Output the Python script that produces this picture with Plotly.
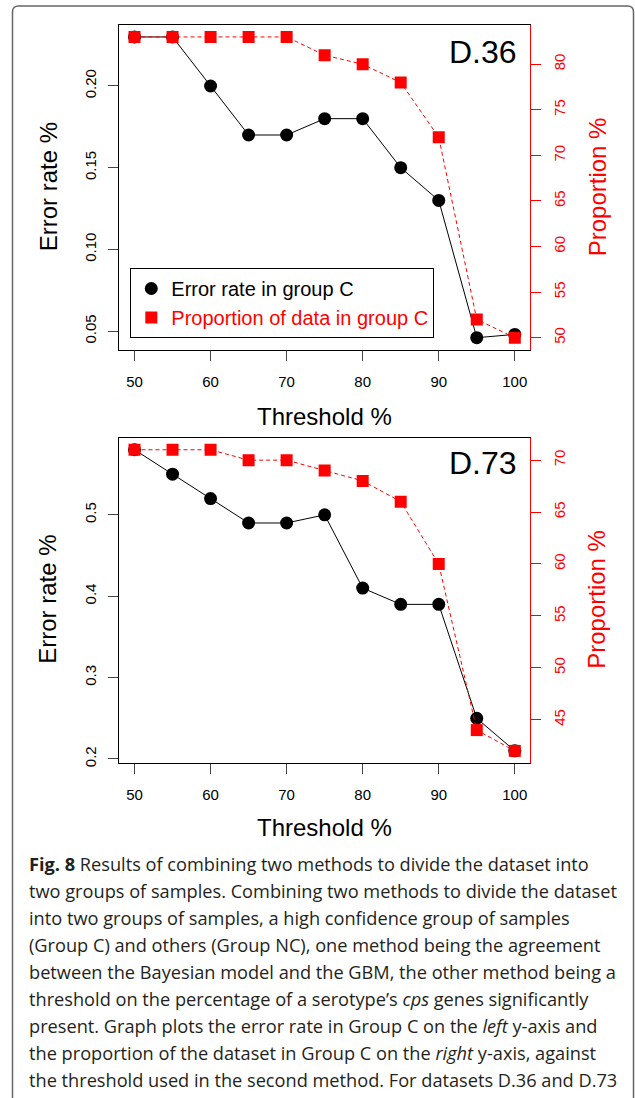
import plotly.graph_objects as go

# ---------------- data ----------------
threshold = [50, 55, 60, 65, 70, 75, 80, 85, 90, 95, 100]
err_d36 = [0.23, 0.23, 0.20, 0.17, 0.17, 0.18, 0.18, 0.15, 0.13, 0.046, 0.048]
prop_d36 = [83, 83, 83, 83, 83, 81, 80, 78, 72, 52, 50]
err_d73 = [0.58, 0.55, 0.52, 0.49, 0.49, 0.50, 0.41, 0.39, 0.39, 0.25, 0.21]
prop_d73 = [71, 71, 71, 70, 70, 69, 68, 66, 60, 44, 42]
x_ticks = [50, 60, 70, 80, 90, 100]
err_d36_ticks = [0.05, 0.10, 0.15, 0.20]
prop_d36_ticks = [50, 55, 60, 65, 70, 75, 80]
err_d73_ticks = [0.2, 0.3, 0.4, 0.5]
prop_d73_ticks = [45, 50, 55, 60, 65, 70]
legend_names = ["Error rate in group C", "Proportion of data in group C"]
caption_lines = [
    "<b>Fig. 8</b> Results of combining two methods to divide the dataset into",
    "two groups of samples. Combining two methods to divide the dataset",
    "into two groups of samples, a high confidence group of samples",
    "(Group C) and others (Group NC), one method being the agreement",
    "between the Bayesian model and the GBM, the other method being a",
    "threshold on the percentage of a serotype\u2019s <i>cps</i> genes significantly",
    "present. Graph plots the error rate in Group C on the <i>left</i> y-axis and",
    "the proportion of the dataset in Group C on the <i>right</i> y-axis, against",
    "the threshold used in the second method. For datasets D.36 and D.73",
]

W, H = 635, 1098
RED = "#FF0000"
FONT = "Liberation Sans, Arial, Helvetica, sans-serif"


def px(x):
    return x / W


def py(y):
    return 1 - y / H


def rrange(vals):
    lo, hi = min(vals), max(vals)
    d = (hi - lo) * 0.04
    return [lo - d, hi + d]


fig = go.Figure()

line_k = dict(color="black", width=1)
line_r = dict(color=RED, width=1, dash="4px,3px")
mk_c = dict(symbol="circle", size=13, color="black")
mk_s = dict(symbol="square", size=12, color=RED)

fig.add_trace(go.Scatter(x=threshold, y=err_d36, mode="lines+markers", line=line_k,
                         marker=mk_c, xaxis="x", yaxis="y", showlegend=False))
fig.add_trace(go.Scatter(x=threshold, y=prop_d36, mode="lines+markers", line=line_r,
                         marker=mk_s, xaxis="x", yaxis="y2", showlegend=False))
fig.add_trace(go.Scatter(x=threshold, y=err_d73, mode="lines+markers", line=line_k,
                         marker=mk_c, xaxis="x2", yaxis="y3", showlegend=False))
fig.add_trace(go.Scatter(x=threshold, y=prop_d73, mode="lines+markers", line=line_r,
                         marker=mk_s, xaxis="x2", yaxis="y4", showlegend=False))
# legend entries (markers only, like R legend)
fig.add_trace(go.Scatter(x=[None], y=[None], mode="markers", marker=mk_c,
                         name=legend_names[0], xaxis="x", yaxis="y"))
fig.add_trace(go.Scatter(x=[None], y=[None], mode="markers", marker=mk_s,
                         name="<span style='color:#FF0000'>" + legend_names[1] + "</span>",
                         xaxis="x", yaxis="y"))

xdom = [px(119.3), px(530)]
common_x = dict(domain=xdom, range=rrange(threshold), tickvals=x_ticks, showline=True,
                mirror=True, linecolor="black", linewidth=1, ticks="outside", ticklen=10,
                tickcolor="#444", tickfont=dict(size=15, color="black", family=FONT),
                ticklabelstandoff=8, showgrid=False, zeroline=False)
common_yl = dict(showline=True, linecolor="black", linewidth=1, ticks="outside", ticklen=10,
                 tickcolor="#444", tickangle=-90, tickfont=dict(size=15, color="black", family=FONT),
                 ticklabelstandoff=6, showgrid=False, zeroline=False)
common_yr = dict(side="right", showline=True, linecolor=RED, linewidth=1, ticks="outside",
                 ticklen=10, tickcolor=RED, tickangle=-90,
                 tickfont=dict(size=15, color=RED, family=FONT), ticklabelstandoff=6,
                 showgrid=False, zeroline=False)

fig.update_layout(
    width=W, height=H, margin=dict(l=0, r=0, t=0, b=0),
    paper_bgcolor="white", plot_bgcolor="white",
    font=dict(family=FONT, color="black"),
    xaxis=dict(anchor="y", **common_x),
    yaxis=dict(domain=[py(351), py(25)], anchor="x", range=rrange(err_d36),
               tickvals=err_d36_ticks, tickformat=".2f", **common_yl),
    yaxis2=dict(overlaying="y", anchor="x", range=rrange(prop_d36),
                tickvals=prop_d36_ticks, **common_yr),
    xaxis2=dict(anchor="y3", **common_x),
    yaxis3=dict(domain=[py(765.7), py(439.3)], anchor="x2", range=rrange(err_d73),
                tickvals=err_d73_ticks, tickformat=".1f", **common_yl),
    yaxis4=dict(overlaying="y3", anchor="x2", range=rrange(prop_d73),
                tickvals=prop_d73_ticks, **common_yr),
    showlegend=True,
    legend=dict(x=px(130.3), y=py(269), xanchor="left", yanchor="top",
                bordercolor="black", borderwidth=1, bgcolor="white",
                font=dict(size=20, family=FONT, color="black"), tracegroupgap=0),
)

ann = []
for yc_thr, yc_mid, label, ylab in [(418, 188, "D.36", 52), (831, 602, "D.73", 465)]:
    ann.append(dict(text="Threshold %", x=px(324.5), y=py(yc_thr), xref="paper", yref="paper",
                    showarrow=False, font=dict(size=24, family=FONT, color="black"),
                    xanchor="center", yanchor="middle"))
    ann.append(dict(text="Error rate %", x=px(48), y=py(yc_mid), xref="paper", yref="paper",
                    showarrow=False, textangle=-90, font=dict(size=24, family=FONT, color="black"),
                    xanchor="center", yanchor="middle"))
    ann.append(dict(text="Proportion %", x=px(597), y=py(yc_mid), xref="paper", yref="paper",
                    showarrow=False, textangle=-90, font=dict(size=24, family=FONT, color=RED),
                    xanchor="center", yanchor="middle"))
    ann.append(dict(text=label, x=px(519), y=py(ylab), xref="paper", yref="paper",
                    showarrow=False, font=dict(size=32, family=FONT, color="black"),
                    xanchor="right", yanchor="middle"))

for i, line in enumerate(caption_lines):
    ann.append(dict(text=line, x=px(27), y=py(867 + 27.1 * i), xref="paper", yref="paper",
                    showarrow=False,
                    font=dict(size=18.2, family="Open Sans, Noto Sans, sans-serif", color="#231F20"),
                    xanchor="left", yanchor="middle", align="left"))
fig.update_layout(annotations=ann)

# outer rounded frame
x0, x1, yt, yb = px(12.5), px(633.5), py(6), -0.02
rx, ry = 6 / W, 6 / H
path = (f"M {x0},{yb} L {x0},{yt - ry} Q {x0},{yt} {x0 + rx},{yt} "
        f"L {x1 - rx},{yt} Q {x1},{yt} {x1},{yt - ry} L {x1},{yb}")
fig.add_shape(type="path", path=path, xref="paper", yref="paper",
              line=dict(color="#666", width=1.5))

fig.write_html("out.html", config={"displayModeBar": False},
               post_script="document.body.style.margin='0';")
